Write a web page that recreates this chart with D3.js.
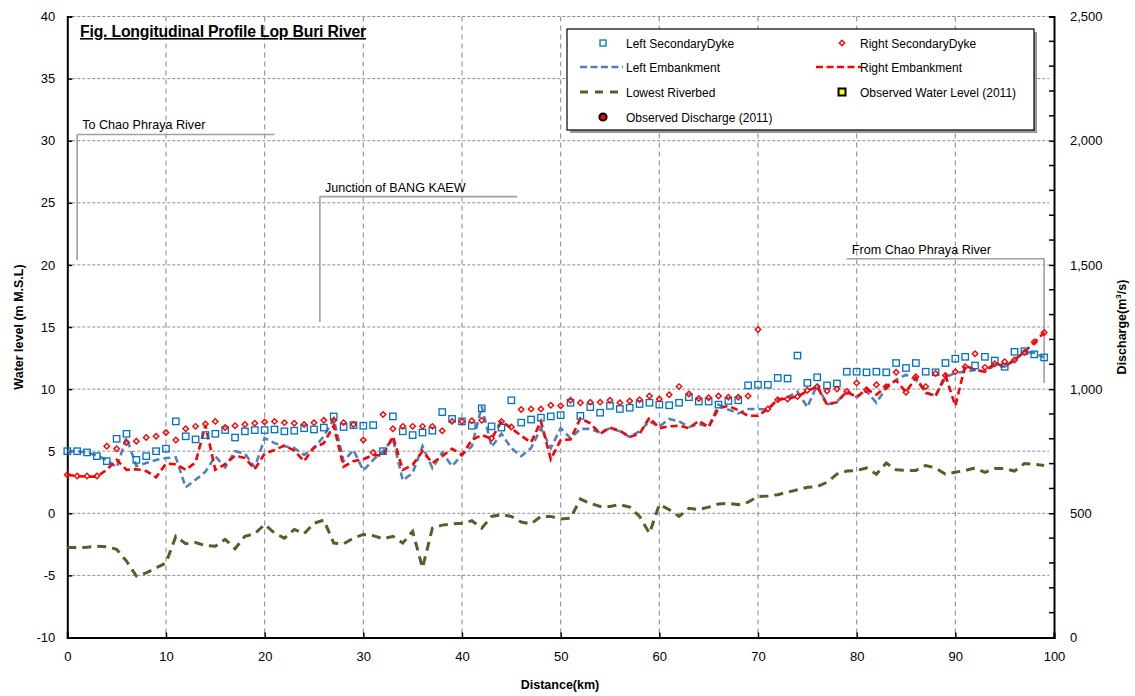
<!DOCTYPE html>
<html>
<head>
<meta charset="utf-8">
<script src="https://cdn.jsdelivr.net/npm/d3@7"></script>
<style>
  html, body { margin: 0; padding: 0; background: #fff; }
  svg { display: block; font-family: "Liberation Sans", Arial, sans-serif; }
</style>
</head>
<body>
<svg id="chart" width="1135" height="696"></svg>
<script>
// Distance along the river (km), one survey section per km
const distanceKm = d3.range(0, 100);

// Crest / bed elevations (m M.S.L.) per section
const leftSecondaryDyke = [
  5.0,5.0,4.9,4.6,4.2,6.0,6.4,4.3,4.6,5.0,5.2,7.4,6.2,5.95,6.3,6.4,6.7,6.1,6.6,6.7,
  6.7,6.75,6.6,6.65,6.85,6.75,6.9,7.8,6.95,7.1,7.05,7.1,5.0,7.8,6.6,6.3,6.5,6.65,8.15,7.6,
  7.4,7.05,8.45,7.0,6.9,9.1,7.3,7.55,7.7,7.8,7.9,8.9,7.85,8.55,8.1,8.65,8.4,8.5,8.8,8.9,
  8.75,8.7,8.9,9.35,9.0,9.0,8.75,9.05,9.1,10.3,10.35,10.35,10.9,10.85,12.7,10.5,10.95,10.3,10.45,11.4,
  11.4,11.35,11.4,11.35,12.1,11.7,12.1,11.4,11.35,12.1,12.45,12.6,11.9,12.6,12.3,11.8,13.0,13.05,12.8,12.55
];
const rightSecondaryDyke = [
  3.1,3.0,3.0,3.0,5.4,5.2,5.7,5.8,6.1,6.2,6.5,5.9,6.8,7.0,7.2,7.4,6.9,7.05,7.15,7.25,
  7.35,7.4,7.3,7.25,7.15,7.3,7.5,7.5,7.3,7.15,5.9,4.9,7.95,6.8,7.0,7.0,7.0,7.0,6.65,7.4,
  7.4,7.45,7.5,6.05,7.4,6.95,8.35,8.4,8.4,8.7,8.65,9.1,8.9,8.95,8.95,9.1,8.9,9.05,9.15,9.45,
  9.2,9.55,10.2,9.6,9.25,9.3,9.45,9.35,9.35,9.45,14.8,8.4,9.15,9.2,9.4,9.9,10.2,9.85,10.0,9.8,
  10.5,9.95,10.35,10.2,11.35,9.75,11.0,10.2,11.25,11.1,11.4,11.8,12.85,11.75,12.05,12.2,12.35,12.95,13.8,14.55
];
const leftEmbankment = [
  5.0,5.0,4.9,4.65,4.3,3.7,6.1,3.8,4.05,4.3,4.45,4.5,2.1,2.7,3.35,4.6,3.7,5.0,4.8,3.7,
  6.05,5.65,5.4,5.25,4.7,5.25,6.2,7.6,4.2,5.1,3.45,4.3,5.0,6.0,2.65,3.25,5.4,3.65,4.9,3.8,
  4.7,5.4,8.6,5.35,6.4,5.25,4.6,5.25,6.85,5.25,6.85,6.05,6.8,6.8,6.5,6.85,6.6,6.15,6.6,7.4,
  7.0,7.6,7.4,6.95,7.2,6.95,8.75,8.35,8.05,8.4,8.4,8.35,9.15,9.35,9.8,8.55,10.35,8.75,9.0,9.75,
  9.35,9.85,8.9,10.1,10.75,11.15,10.75,9.75,9.45,10.95,11.3,11.4,11.55,11.4,11.9,11.8,12.35,13.0,12.9,12.55
];
const rightEmbankment = [
  3.1,3.0,2.95,2.95,3.5,4.3,3.5,3.55,3.4,2.9,4.0,3.95,3.5,4.1,7.1,3.5,3.95,4.65,4.45,3.55,
  4.8,5.1,5.45,5.05,4.2,5.3,5.65,7.05,3.75,4.2,4.35,4.7,4.65,6.2,3.5,3.9,5.0,4.05,4.6,5.2,
  4.7,5.9,6.3,6.0,7.4,6.85,6.25,5.7,7.4,4.35,5.9,5.95,7.65,7.25,6.4,6.9,6.65,6.15,6.4,7.7,
  6.85,7.0,7.05,6.85,7.45,6.95,8.45,8.65,8.3,7.85,7.85,8.4,9.15,9.25,9.4,9.85,10.2,8.75,8.95,9.8,
  9.35,10.0,9.55,10.2,10.7,9.75,10.95,9.7,9.45,11.1,8.65,11.9,11.55,11.4,12.1,11.8,12.35,13.0,13.75,14.55
];
const lowestRiverbed = [
  -2.76,-2.76,-2.73,-2.65,-2.7,-2.9,-3.85,-5.05,-4.8,-4.4,-4.0,-1.85,-2.45,-2.35,-2.6,-2.65,-2.1,-2.85,-1.85,-1.65,
  -0.9,-1.6,-2.0,-1.3,-1.65,-0.8,-0.55,-2.4,-2.45,-2.0,-1.7,-1.8,-2.05,-1.85,-2.4,-1.45,-4.4,-1.2,-0.95,-0.85,
  -0.8,-0.6,-1.2,-0.25,-0.1,-0.25,-0.7,-0.85,-0.25,-0.25,-0.45,-0.4,1.15,0.8,0.55,0.55,0.7,0.5,-0.25,-1.6,
  0.7,0.3,-0.25,0.4,0.3,0.5,0.75,0.8,0.7,0.9,1.35,1.4,1.5,1.7,1.9,2.1,2.15,2.5,3.15,3.4,
  3.45,3.65,3.15,4.05,3.5,3.45,3.45,3.85,3.65,3.15,3.3,3.45,3.65,3.3,3.6,3.6,3.4,4.0,3.95,3.85
];

// Axis ticks
const xTicks = d3.range(0, 101, 10);
const yTicks = d3.range(-10, 41, 5);
const dischargeTicks = d3.range(0, 2501, 500);
const dischargeMinorTicks = d3.range(0, 2501, 100);

// Annotation brackets: [label, x start, x end, y top, y bottom, vertical at]
const annotations = [
  { label: "To Chao Phraya River", x0: 1, x1: 21, yTop: 30.5, yBottom: 20.4, xv: 1 },
  { label: "Junction of BANG KAEW", x0: 25.6, x1: 45.6, yTop: 25.5, yBottom: 15.4, xv: 25.6 },
  { label: "From Chao Phraya River", x0: 79, x1: 99, yTop: 20.5, yBottom: 10.5, xv: 99 }
];

const legendItems = [
  { label: "Left SecondaryDyke", kind: "square" },
  { label: "Right SecondaryDyke", kind: "diamond" },
  { label: "Left Embankment", kind: "leftLine" },
  { label: "Right Embankment", kind: "rightLine" },
  { label: "Lowest Riverbed", kind: "bedLine" },
  { label: "Observed Water Level (2011)", kind: "wl" },
  { label: "Observed Discharge (2011)", kind: "q" }
];

const colors = {
  leftDyke: "#0070C0",
  rightDyke: "#FF0000",
  leftEmb: "#4F81BD",
  rightEmb: "#FF0000",
  bed: "#4F6228",
  grid: "#8c8c8c"
};

const svg = d3.select("#chart");
const plot = { left: 67.3, right: 1054, top: 16.5, bottom: 637.5 };

const x = d3.scaleLinear().domain([0, 100]).range([plot.left, plot.right]);
const y = d3.scaleLinear().domain([-10, 40]).range([plot.bottom, plot.top]);
const yQ = d3.scaleLinear().domain([0, 2500]).range([plot.bottom, plot.top]);
const plainNum = d => String(d);

// Gridlines
const grid = svg.append("g");
grid.selectAll("line.h").data(yTicks.filter(v => v > -10)).join("line")
  .attr("x1", plot.left).attr("x2", plot.right - 5)
  .attr("y1", d => y(d)).attr("y2", d => y(d))
  .attr("stroke", colors.grid).attr("stroke-width", 1).attr("stroke-dasharray", "3,2");
grid.selectAll("line.v").data(xTicks.filter(v => v > 0 && v < 100)).join("line")
  .attr("x1", d => x(d)).attr("x2", d => x(d))
  .attr("y1", plot.top).attr("y2", plot.bottom)
  .attr("stroke", "#9a9a9a").attr("stroke-width", 1.2).attr("stroke-dasharray", "5,4");

// Left axis
const yAxis = d3.axisLeft(y).tickValues(yTicks).tickSize(-5).tickPadding(12).tickFormat(plainNum);
const gy = svg.append("g").attr("transform", `translate(${plot.left},0)`).call(yAxis);
gy.select(".domain").attr("stroke", "#000").attr("stroke-width", 2);
gy.selectAll(".tick line").attr("stroke", "#000").attr("stroke-width", 1.5);
gy.selectAll(".tick text").attr("font-size", 13).attr("fill", "#000")
  .attr("font-family", "Liberation Sans, Arial, sans-serif");

// Right axis (discharge)
const yQAxis = d3.axisRight(yQ).tickValues(dischargeTicks).tickSize(-5).tickPadding(16)
  .tickFormat(d3.format(","));
const gq = svg.append("g").attr("transform", `translate(${plot.right},0)`).call(yQAxis);
gq.select(".domain").attr("stroke", "#000").attr("stroke-width", 2);
gq.selectAll(".tick line").attr("stroke", "#000").attr("stroke-width", 1.5);
gq.selectAll(".tick text").attr("font-size", 13).attr("fill", "#000")
  .attr("font-family", "Liberation Sans, Arial, sans-serif");
gq.selectAll("line.minor").data(dischargeMinorTicks.filter(v => v % 500 !== 0)).join("line")
  .attr("class", "minor")
  .attr("x1", 0).attr("x2", -5).attr("y1", d => yQ(d)).attr("y2", d => yQ(d))
  .attr("stroke", "#000").attr("stroke-width", 1.5);

// Bottom axis
const xAxis = d3.axisBottom(x).tickValues(xTicks).tickSize(-5).tickPadding(14).tickFormat(plainNum);
const gx = svg.append("g").attr("transform", `translate(0,${plot.bottom})`).call(xAxis);
gx.select(".domain").attr("stroke", "#000").attr("stroke-width", 2);
gx.selectAll(".tick line").attr("stroke", "#000").attr("stroke-width", 1.5);
gx.selectAll(".tick text").attr("font-size", 13).attr("fill", "#000")
  .attr("font-family", "Liberation Sans, Arial, sans-serif");

// Axis titles
svg.append("text").attr("x", 560).attr("y", 689).attr("text-anchor", "middle")
  .attr("font-size", 12.5).attr("font-weight", "bold").text("Distance(km)");
svg.append("text").attr("transform", "translate(23,327) rotate(-90)").attr("text-anchor", "middle")
  .attr("font-size", 12.5).attr("font-weight", "bold").text("Water level (m M.S.L)");
const qTitle = svg.append("text").attr("transform", "translate(1126,327) rotate(-90)")
  .attr("text-anchor", "middle").attr("font-size", 12.5).attr("font-weight", "bold");
qTitle.append("tspan").text("Discharge(m");
qTitle.append("tspan").attr("font-size", 8).attr("dy", -5).text("3");
qTitle.append("tspan").attr("dy", 5).text("/s)");

// Chart title
svg.append("text").attr("x", 80).attr("y", 37)
  .attr("font-size", 15.8).attr("font-weight", "bold").attr("text-decoration", "underline")
  .attr("letter-spacing", -0.2)
  .text("Fig. Longitudinal Profile Lop Buri River");

// Annotation brackets
const ann = svg.append("g");
annotations.forEach(a => {
  ann.append("path")
    .attr("d", `M${x(a.x1)},${y(a.yTop)}H${x(a.x0)}M${x(a.xv)},${y(a.yTop)}V${y(a.yBottom)}`)
    .attr("fill", "none").attr("stroke", "#a0a0a0").attr("stroke-width", 1.6);
  ann.append("text").attr("x", x(a.x0) + 5).attr("y", y(a.yTop) - 5)
    .attr("font-size", 12.6).attr("fill", "#000").text(a.label);
});

// Series lines
const line = d3.line().x((d, i) => x(distanceKm[i])).y(d => y(d));
svg.append("path").datum(lowestRiverbed).attr("d", line)
  .attr("fill", "none").attr("stroke", colors.bed).attr("stroke-width", 3)
  .attr("stroke-dasharray", "9,6");
svg.append("path").datum(leftEmbankment).attr("d", line)
  .attr("fill", "none").attr("stroke", colors.leftEmb).attr("stroke-width", 2.6)
  .attr("stroke-dasharray", "7,4");
svg.append("path").datum(rightEmbankment).attr("d", line)
  .attr("fill", "none").attr("stroke", colors.rightEmb).attr("stroke-width", 2.6)
  .attr("stroke-dasharray", "7,4");

// Dyke markers
svg.append("g").selectAll("rect").data(leftSecondaryDyke).join("rect")
  .attr("x", (d, i) => x(distanceKm[i]) - 3.2).attr("y", d => y(d) - 3.2)
  .attr("width", 6.4).attr("height", 6.4)
  .attr("fill", "none").attr("stroke", colors.leftDyke).attr("stroke-width", 1.3);
svg.append("g").selectAll("path").data(rightSecondaryDyke).join("path")
  .attr("transform", (d, i) => `translate(${x(distanceKm[i])},${y(d)}) rotate(45)`)
  .attr("d", d3.symbol().type(d3.symbolSquare).size(15))
  .attr("fill", "none").attr("stroke", colors.rightDyke).attr("stroke-width", 1.4);

// Legend
const lg = svg.append("g").attr("transform", "translate(567,29)");
lg.append("rect").attr("x", 3).attr("y", 3).attr("width", 467).attr("height", 101).attr("fill", "#9a9a9a");
lg.append("rect").attr("width", 467).attr("height", 101).attr("fill", "#fff")
  .attr("stroke", "#000").attr("stroke-width", 1.2);
const rowY = [14, 38, 63, 88];
legendItems.forEach((item, i) => {
  const col = i === 6 ? 0 : i % 2;
  const row = i === 6 ? 3 : Math.floor(i / 2);
  const gx0 = col === 0 ? 0 : 233;
  const cy = rowY[row];
  const g = lg.append("g").attr("transform", `translate(${gx0},${cy})`);
  const mx = col === 0 ? 36 : 42;
  if (item.kind === "square") {
    g.append("rect").attr("x", mx - 3).attr("y", -3).attr("width", 6).attr("height", 6)
      .attr("fill", "none").attr("stroke", colors.leftDyke).attr("stroke-width", 1.3);
  } else if (item.kind === "diamond") {
    g.append("path").attr("transform", `translate(${mx},0) rotate(45)`)
      .attr("d", d3.symbol().type(d3.symbolSquare).size(14))
      .attr("fill", "none").attr("stroke", colors.rightDyke).attr("stroke-width", 1.4);
  } else if (item.kind === "leftLine" || item.kind === "rightLine") {
    g.append("line").attr("x1", col === 0 ? 13 : 16).attr("x2", col === 0 ? 56 : 61).attr("y1", 0).attr("y2", 0)
      .attr("stroke", item.kind === "leftLine" ? colors.leftEmb : colors.rightEmb)
      .attr("stroke-width", 2.4).attr("stroke-dasharray", "7,3.5");
  } else if (item.kind === "bedLine") {
    g.append("line").attr("x1", 13).attr("x2", 56).attr("y1", 0).attr("y2", 0)
      .attr("stroke", colors.bed).attr("stroke-width", 2.8).attr("stroke-dasharray", "8,7");
  } else if (item.kind === "wl") {
    g.append("rect").attr("x", mx - 3.5).attr("y", -3.5).attr("width", 7).attr("height", 7)
      .attr("fill", "#FFFF00").attr("stroke", "#000").attr("stroke-width", 2);
  } else if (item.kind === "q") {
    g.append("circle").attr("cx", mx).attr("cy", 0).attr("r", 3.6)
      .attr("fill", "#FF0000").attr("stroke", "#000").attr("stroke-width", 2);
  }
  g.append("text").attr("x", col === 0 ? 59 : 60).attr("y", 4.5)
    .attr("font-size", 12).attr("fill", "#000").text(item.label);
});
</script>
</body>
</html>
